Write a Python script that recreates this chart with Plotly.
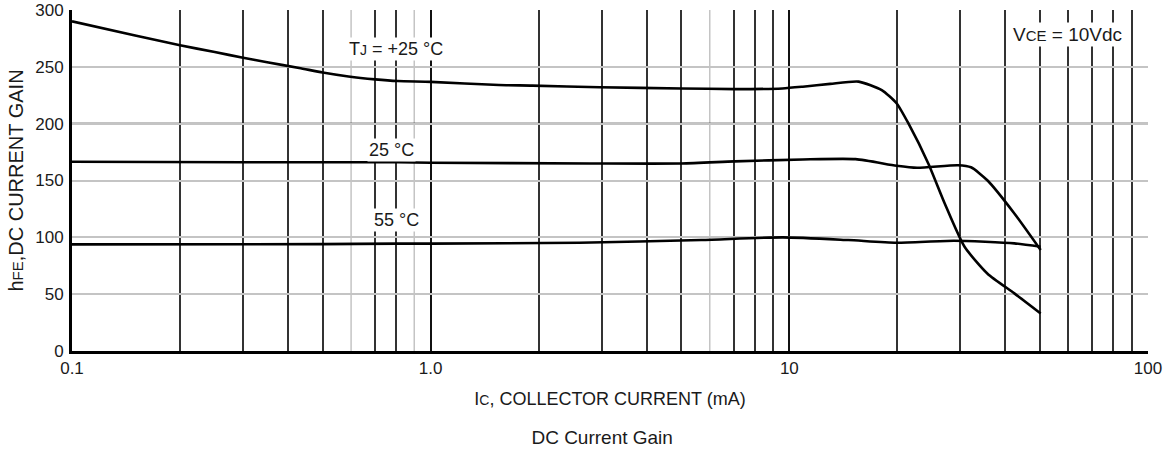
import math
import plotly.graph_objects as go

# ---- data ----
ic_hot = [0.1, 0.15, 0.2, 0.25, 0.3, 0.35, 0.43, 0.5, 0.59, 0.7, 0.81, 1.0, 1.55, 1.92, 2.96, 5.0, 7.04, 9.56, 10.9, 13.0, 15.6, 18.1, 19.9, 21.5, 24.4, 27.1, 30.8, 35.7, 42.4, 50.2]
hfe_hot = [290, 277.5, 269, 263, 258, 254, 249, 245, 241.5, 239, 237.5, 236.8, 234, 233.5, 232, 231, 230.4, 231, 232.5, 235, 237, 229.5, 218, 200, 165, 130, 91.7, 68, 50.7, 33]

ic_room = [0.1, 0.3, 0.81, 1.0, 2.78, 5.0, 7.04, 10.9, 15.3, 19.9, 22.7, 29.5, 32.1, 35.7, 42.4, 50.2]
hfe_room = [166.5, 166, 166, 165.6, 165, 165, 166.8, 168.5, 168.8, 163, 161.2, 163.4, 161.6, 150, 121, 88.8]

ic_cold = [0.1, 0.5, 0.81, 1.0, 2.6, 5.68, 9.6, 14.6, 19.9, 28.8, 42.4, 50.2]
hfe_cold = [93.8, 94, 94.5, 94.5, 95.3, 97.6, 100, 97.6, 95.3, 97, 94.7, 91.7]

x_tickvals = [0.1, 1, 10, 100]
x_ticktext = ["0.1", "1.0", "10", "100"]
y_tickvals = [0, 50, 100, 150, 200, 250, 300]

x_dark_minor = [0.2, 0.3, 0.4, 0.5, 0.7, 0.8, 2, 3, 4, 5, 7, 8, 9, 20, 30, 40, 50, 60, 70, 80, 90]
x_light_minor = [0.6, 0.9, 6]
y_dark_grid = [50, 200]

FONT = "Liberation Sans, Arial, sans-serif"
TXT = "#1a1a1a"

fig = go.Figure()
for xs, ys in [(ic_hot, hfe_hot), (ic_room, hfe_room), (ic_cold, hfe_cold)]:
    fig.add_trace(go.Scatter(x=xs, y=ys, mode="lines",
                             line=dict(color="black", width=2.6, shape="spline", smoothing=0.6),
                             showlegend=False, hoverinfo="skip"))

shapes = []
for v in x_light_minor:
    shapes.append(dict(type="line", xref="x", yref="paper", x0=v, x1=v, y0=0, y1=1,
                       line=dict(color="#c4c4c4", width=1.5), layer="below"))
for v in y_dark_grid:
    shapes.append(dict(type="line", xref="paper", yref="y", x0=0, x1=1, y0=v, y1=v,
                       line=dict(color="#111", width=1.6), layer="between"))

fig.update_layout(
    width=1167, height=457,
    margin=dict(l=72, r=19, t=10, b=106),
    paper_bgcolor="white", plot_bgcolor="white",
    font=dict(family=FONT, color=TXT),
    shapes=shapes,
    title=dict(text="DC Current Gain", x=0.516, xanchor="center", y=0.044, yanchor="middle",
               yref="container", font=dict(size=19, family=FONT, color=TXT)),
    xaxis=dict(type="log", range=[-1, 2], tickvals=x_tickvals, ticktext=x_ticktext,
               automargin=False,
               showgrid=True, gridcolor="#111", gridwidth=1.5,
               minor=dict(tickvals=x_dark_minor, showgrid=True, gridcolor="#333", gridwidth=1.5, ticks=""),
               showline=True, linecolor="black", linewidth=3, ticks="", zeroline=False,
               tickfont=dict(size=17, family=FONT, color=TXT), ticklabelstandoff=0,
               title=dict(text="I<span style='font-size:14px'>C</span>, COLLECTOR CURRENT (mA)",
                          font=dict(size=18, family=FONT, color=TXT), standoff=15)),
    yaxis=dict(range=[0, 300], tickvals=y_tickvals, automargin=False,
               showgrid=True, gridcolor="#c4c4c4", gridwidth=1.6,
               showline=True, linecolor="black", linewidth=3, ticks="", zeroline=False,
               tickfont=dict(size=17, family=FONT, color=TXT), ticklabelstandoff=2,
               title=dict(text="h<span style='font-size:15px'>FE</span>,DC CURRENT GAIN",
                          font=dict(size=20, family=FONT, color=TXT), standoff=7)),
)

annots = [
    ("T<span style='font-size:14px'>J</span> = +25 °C", 0.80, 265.6, 18),
    ("25 °C", 0.78, 176.8, 18),
    ("55 °C", 0.805, 115.2, 18),
    ("V<span style='font-size:15px'>CE</span> = 10Vdc", 59.8, 278.8, 19),
]
for text, xv, yv, fs in annots:
    fig.add_annotation(text=text, x=math.log10(xv), y=yv, xref="x", yref="y",
                       showarrow=False, xanchor="center", yanchor="middle",
                       bgcolor="white", borderpad=1,
                       font=dict(size=fs, family=FONT, color=TXT))

# remove the default 8px page margin so the figure sits at the window's top-left corner
fig.write_html("out.html", config={"displayModeBar": False},
               post_script="document.body.style.margin='0';")
